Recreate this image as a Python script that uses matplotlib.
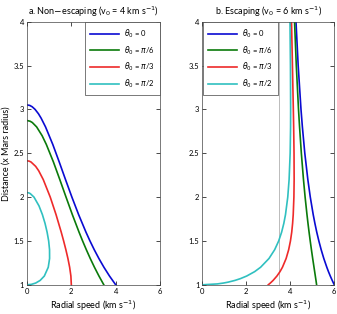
import matplotlib
matplotlib.use("Agg")
import matplotlib.pyplot as plt

plt.rcParams['font.family'] = ['Lato', 'DejaVu Sans']
plt.rcParams['mathtext.fontset'] = 'dejavusans'

# Panel a: non-escaping, v0 = 4 km/s  (distance in Mars radii, radial speed in km/s)
a_r_0 = [1, 1.1, 1.2, 1.3, 1.4, 1.5, 1.6, 1.8, 2.0, 2.2, 2.4, 2.6, 2.8, 2.9, 2.95, 3.0, 3.03, 3.045, 3.051]
a_v_0 = [4, 3.720, 3.469, 3.242, 3.033, 2.840, 2.660, 2.329, 2.025, 1.737, 1.455, 1.164, 0.837, 0.638, 0.518, 0.365, 0.234, 0.127, 0]
a_r_6 = [1, 1.1, 1.2, 1.3, 1.4, 1.5, 1.6, 1.8, 2.0, 2.2, 2.4, 2.6, 2.7, 2.8, 2.85, 2.865, 2.873]
a_v_6 = [3.464, 3.245, 3.042, 2.853, 2.676, 2.508, 2.348, 2.046, 1.761, 1.480, 1.193, 0.873, 0.683, 0.436, 0.242, 0.141, 0]
a_r_3 = [1, 1.1, 1.2, 1.3, 1.4, 1.5, 1.6, 1.8, 2.0, 2.2, 2.3, 2.35, 2.4, 2.41, 2.414]
a_v_3 = [2.0, 1.980, 1.924, 1.846, 1.754, 1.653, 1.545, 1.311, 1.049, 0.734, 0.529, 0.393, 0.183, 0.097, 0]
a_r_2 = [1, 1.005, 1.02, 1.05, 1.1, 1.2, 1.3, 1.4, 1.5, 1.6, 1.7, 1.8, 1.9, 2.0, 2.04, 2.048, 2.051]
a_v_2 = [0, 0.201, 0.393, 0.595, 0.783, 0.960, 1.020, 1.018, 0.978, 0.908, 0.815, 0.696, 0.542, 0.316, 0.148, 0.08, 0]

# Panel b: escaping, v0 = 6 km/s
b_r = [1, 1.02, 1.05, 1.1, 1.15, 1.2, 1.3, 1.4, 1.5, 1.6, 1.7, 1.8, 2.0, 2.2, 2.5, 2.8, 3.0, 3.5, 4.0]
b_v_0 = [6, 5.961, 5.905, 5.817, 5.735, 5.660, 5.523, 5.404, 5.298, 5.203, 5.119, 5.042, 4.909, 4.798, 4.660, 4.550, 4.487, 4.359, 4.260]
b_v_6 = [5.196, 5.185, 5.168, 5.138, 5.108, 5.078, 5.018, 4.961, 4.906, 4.854, 4.805, 4.759, 4.674, 4.600, 4.503, 4.422, 4.374, 4.274, 4.194]
b_v_3 = [3.0, 3.095, 3.221, 3.394, 3.533, 3.645, 3.812, 3.927, 4.008, 4.066, 4.106, 4.134, 4.165, 4.176, 4.171, 4.154, 4.139, 4.098, 4.057]
b_r_2 = [1, 1.01, 1.02, 1.03, 1.05, 1.07, 1.1, 1.15, 1.2, 1.3, 1.4, 1.5, 1.6, 1.7, 1.8, 2.0, 2.2, 2.5, 2.8, 3.0, 3.5, 4.0]
b_v_2 = [0, 0.688, 0.965, 1.172, 1.488, 1.732, 2.021, 2.382, 2.652, 3.034, 3.291, 3.474, 3.607, 3.707, 3.783, 3.886, 3.947, 3.995, 4.014, 4.017, 4.008, 3.987]
b_asym = 3.49

labels = [r'$\theta_0$ = 0', r'$\theta_0$ = $\pi$/6', r'$\theta_0$ = $\pi$/3', r'$\theta_0$ = $\pi$/2']
colors = ['#0a0ad2', '#0a7a0a', '#ee2a2a', '#30c0c0']
yticks = [1, 1.5, 2, 2.5, 3, 3.5, 4]
yticklabels = ['1', '1.5', '2', '2.5', '3', '3.5', '4']
xticks = [0, 2, 4, 6]

fig = plt.figure(figsize=(3.37, 3.14), dpi=100)
ax1 = fig.add_axes([0.080, 0.093, 0.395, 0.838])
ax2 = fig.add_axes([0.600, 0.093, 0.392, 0.838])

ax2.axvline(b_asym, color='#bbbbbb', lw=0.7)

for ax, curves, title, loc in [
        (ax1, [(a_v_0, a_r_0), (a_v_6, a_r_6), (a_v_3, a_r_3), (a_v_2, a_r_2)],
         r'a. Non$-$escaping (v$_0$ = 4 km s$^{-1}$)', 'upper right'),
        (ax2, [(b_v_0, b_r), (b_v_6, b_r), (b_v_3, b_r), (b_v_2, b_r_2)],
         r'b. Escaping (v$_0$ = 6 km s$^{-1}$)', 'upper left')]:
    for (v, r), c, lab in zip(curves, colors, labels):
        ax.plot(v, r, color=c, lw=1.2, label=lab)
    ax.set_xlim(0, 6)
    ax.set_ylim(1, 4)
    ax.set_xticks(xticks)
    ax.set_yticks(yticks)
    ax.set_yticklabels(yticklabels)
    ax.tick_params(direction='in', top=True, right=True, length=3, width=0.5,
                   labelsize=5.5, pad=2)
    for s in ax.spines.values():
        s.set_linewidth(0.5)
        s.set_color('#444444')
    ax.set_xlabel(r'Radial speed (km s$^{-1}$)', fontsize=6.5, labelpad=3)
    ax.set_title(title, fontsize=6.5, pad=5)
    leg = ax.legend(loc=loc, fontsize=5.5, handlelength=3.8, borderaxespad=0.05,
                    labelspacing=0.55, borderpad=0.7, handletextpad=0.6,
                    fancybox=False, framealpha=1)
    leg.get_frame().set_linewidth(0.5)
    leg.get_frame().set_edgecolor('#444444')

ax1.set_ylabel('Distance (x Mars radius)', fontsize=6.5, labelpad=2)

fig.savefig('out.png', dpi=100)
